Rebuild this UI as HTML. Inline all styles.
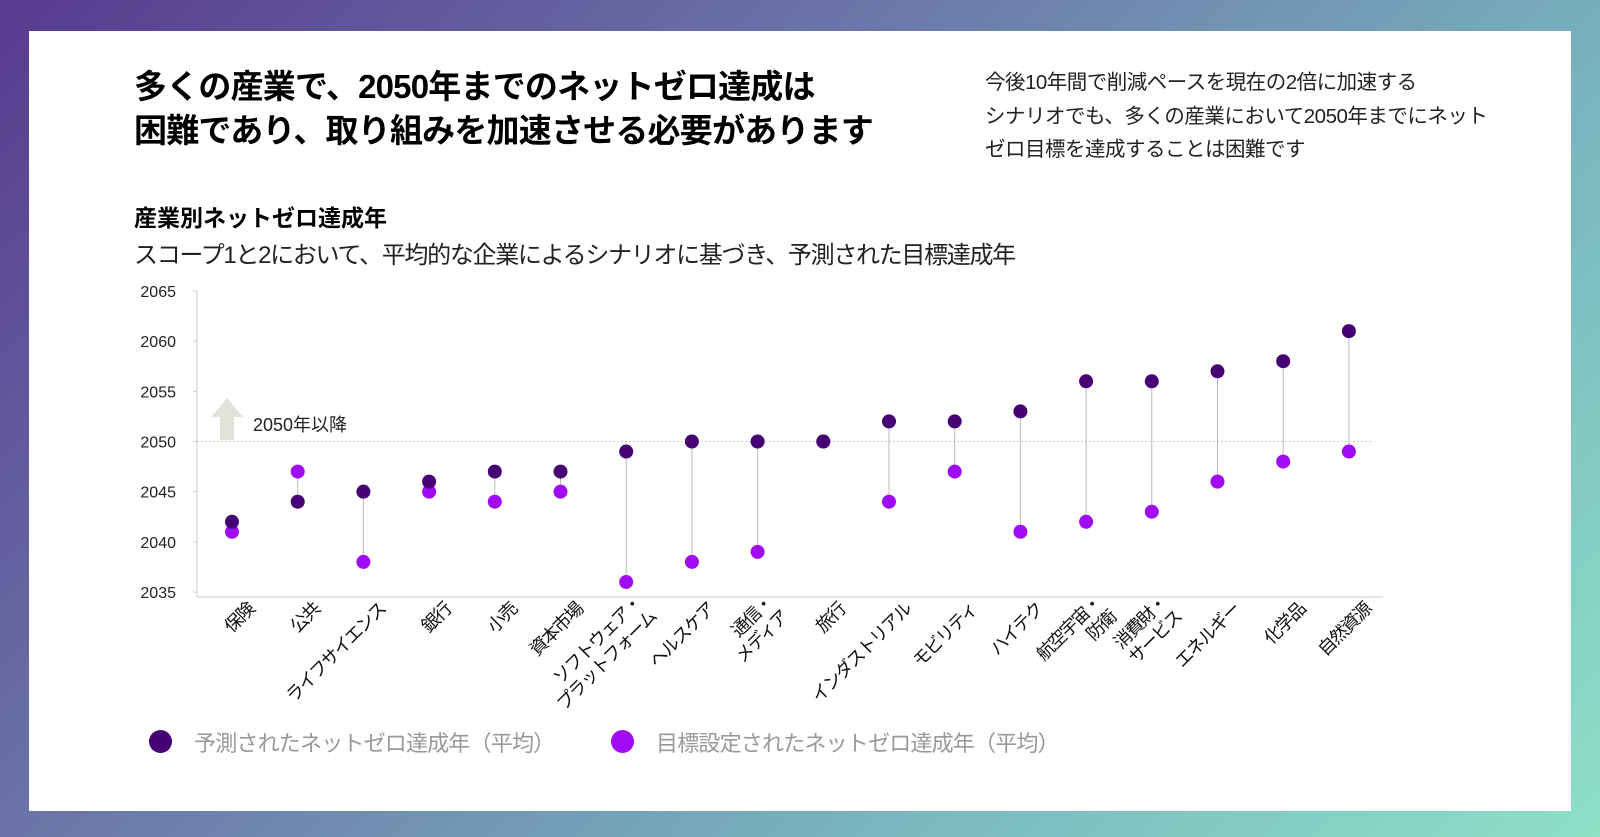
<!DOCTYPE html>
<html><head><meta charset="utf-8"><style>
body{margin:0;width:1600px;height:837px;overflow:hidden;font-family:"Liberation Sans","Noto Sans CJK JP",sans-serif;
background:linear-gradient(135deg,#583a8e 0%,#6a74a8 35%,#79b6c0 70%,#8ee0c6 100%);position:relative}
.panel{position:absolute;left:29px;top:31px;width:1542px;height:780px;background:#fff}
.t{position:absolute;color:#000;white-space:nowrap}
</style></head><body>
<div class="panel"></div>
<div class="t" style="left:134px;top:65px;font-size:33px;font-weight:bold;line-height:44px;letter-spacing:-0.8px">多くの産業で、2050年までのネットゼロ達成は<br>困難であり、取り組みを加速させる必要があります</div>
<div class="t" style="left:985px;top:66px;font-size:20.5px;line-height:33.5px;color:#222;letter-spacing:-0.5px">今後10年間で削減ペースを現在の2倍に加速する<br>シナリオでも、多くの産業において2050年までにネット<br>ゼロ目標を達成することは困難です</div>
<div class="t" style="left:134px;top:199px;font-size:23px;font-weight:bold">産業別ネットゼロ達成年</div>
<div class="t" style="left:134px;top:235px;font-size:24px;color:#222;letter-spacing:-1.3px">スコープ1と2において、平均的な企業によるシナリオに基づき、予測された目標達成年</div>
<svg id="chart" width="1600" height="837" style="position:absolute;left:0;top:0"></svg>
<script>
const categories=["保険","公共","ライフサイエンス","銀行","小売","資本市場","ソフトウェア・|プラットフォーム","ヘルスケア","通信・|メディア","旅行","インダストリアル","モビリティ","ハイテク","航空宇宙・|防衛","消費財・|サービス","エネルギー","化学品","自然資源"];
const forecast=[2042,2044,2045,2046,2047,2047,2049,2050,2050,2050,2052,2052,2053,2056,2056,2057,2058,2061];
const target=[2041,2047,2038,2045,2044,2045,2036,2038,2039,2050,2044,2047,2041,2042,2043,2046,2048,2049];
const yTicks=[2035,2040,2045,2050,2055,2060,2065];
const NS="http://www.w3.org/2000/svg",svg=document.getElementById('chart');
const y=v=>592-(v-2035)*(592-291)/30;
const x=i=>232+i*65.7;
function mk(t,a,p){const e=document.createElementNS(NS,t);for(const k in a)e.setAttribute(k,a[k]);(p||svg).appendChild(e);return e;}
let e;
e=mk('line',{x1:197,y1:291,x2:197,y2:597,stroke:'#ccc'});


e=mk('line',{x1:197,y1:597,x2:1383,y2:597,stroke:'#ccc'});


e=mk('line',{x1:197,y1:y(2050),x2:1373,y2:y(2050),stroke:'#ccc','stroke-dasharray':'2,2'});


yTicks.forEach(v=>{
 const t=mk('text',{x:176,y:y(v)+6,'text-anchor':'end','font-size':16,fill:'#222'});t.textContent=v;
 
 
 mk('line',{x1:193,y1:y(v),x2:197,y2:y(v),stroke:'#ccc'});
});
e=mk('path',{d:'M220 440 V417 H211 L227 398 L243 417 H234 V440 Z',fill:'#e2e2da'});


e=mk('text',{x:253,y:431,'font-size':18,fill:'#222'});e.textContent='2050年以降';


categories.forEach((c,i)=>{
 const cx=x(i);
 e=mk('line',{x1:cx,y1:y(forecast[i]),x2:cx,y2:y(target[i]),stroke:'#bbb','stroke-width':1});
 
 
 e=mk('circle',{cx:cx,cy:y(target[i]),r:7,fill:'#a10af5'});
 
 
 e=mk('circle',{cx:cx,cy:y(forecast[i]),r:7,fill:'#460073'});
 
 
 const lines=c.split('|');
 const g=mk('g',{transform:`translate(${cx+19},${606}) rotate(-45)`});
 
 
 lines.forEach((l,j)=>{
  const yy=lines.length>1?(j==0?-4:17):6;
  const t=mk('text',{x:0,y:yy,'text-anchor':'end','font-size':18,fill:'#111','letter-spacing':'-1.5'},g);t.textContent=l;});
});
</script>
<div>
<div style="position:absolute;left:149px;top:730px;width:23px;height:23px;border-radius:50%;background:#460073"></div>
<div class="t" style="left:194px;top:726px;font-size:22px;color:#999;letter-spacing:-0.8px">予測されたネットゼロ達成年（平均）</div>
<div style="position:absolute;left:611px;top:730px;width:23px;height:23px;border-radius:50%;background:#a10af5"></div>
<div class="t" style="left:656px;top:726px;font-size:22px;color:#999;letter-spacing:-0.8px">目標設定されたネットゼロ達成年（平均）</div>
</div>
</body></html>
